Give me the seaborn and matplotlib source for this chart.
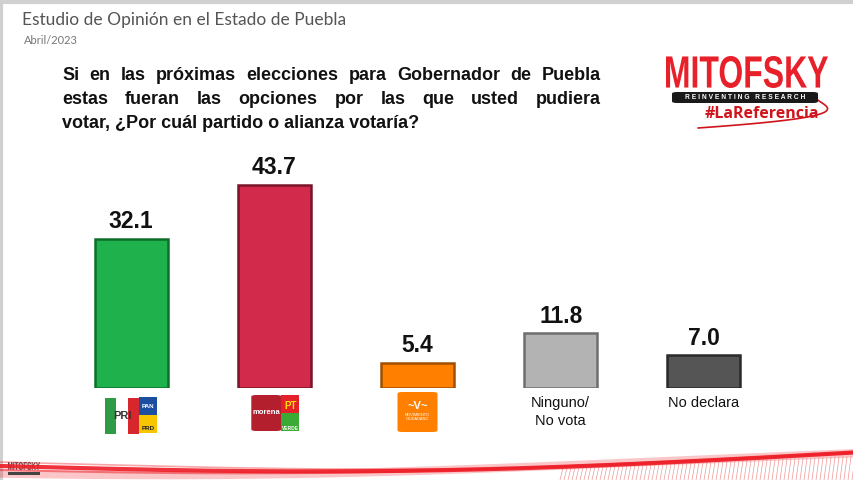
import matplotlib
matplotlib.use("Agg")
import matplotlib.pyplot as plt
import matplotlib.patches as mpatches
from matplotlib.textpath import TextPath
from matplotlib.font_manager import FontProperties
from matplotlib.transforms import Affine2D
import numpy as np
import pandas as pd
import seaborn as sns

# data
categorias = ["PRI-PAN-PRD", "Morena-PT-PVEM", "MC", "Ninguno/\nNo vota", "No declara"]
porcentajes = [32.1, 43.7, 5.4, 11.8, 7.0]
colores = ["#1fb14c", "#d12a4b", "#ff8000", "#b3b3b3", "#555555"]
bordes = ["#0f6e2c", "#7a1428", "#a04f00", "#6e6e6e", "#2a2a2a"]
etiquetas_texto = ["", "", "", "Ninguno/\nNo vota", "No declara"]

titulo = "Estudio de Opinión en el Estado de Puebla"
fecha = "Abril/2023"
pregunta = ["Si en las próximas elecciones para Gobernador de Puebla",
            "estas fueran las opciones por las que usted pudiera",
            "votar, ¿Por cuál partido o alianza votaría?"]

W, H = 854, 480
sns.set_theme(style="white")
plt.rcParams['font.family'] = ['Liberation Sans', 'DejaVu Sans']

fig = plt.figure(figsize=(W / 100, H / 100), dpi=100)
fig.patch.set_facecolor("white")

def fx(px):
    return px / W

def fy(py):
    return 1 - py / H

# main axes: bars bottom at y=388 px, categories spaced ~143 px
ax = fig.add_axes([fx(59.5), fy(388), fx(716), 228 / H])
df = pd.DataFrame({"cat": categorias, "val": porcentajes})
sns.barplot(data=df, x="cat", y="val", hue="cat", palette=colores, saturation=1,
            width=0.51, legend=False, ax=ax, linewidth=1.8)
for bar, ec in zip(ax.patches, bordes):
    bar.set_edgecolor(ec)
ax.set_xlim(-0.5, 4.5)
ax.set_ylim(0, 49)
ax.axis("off")

for i, v in enumerate(porcentajes):
    ax.annotate(f"{v:.1f}", (i, v), xytext=(0, 4), textcoords="offset points",
                ha="center", va="bottom", fontsize=16.5, fontweight="bold",
                color="#111111")

def cx(i):
    return ax.transData.transform((i, 0))[0]

for i, t in enumerate(etiquetas_texto):
    if t:
        fig.text(fx(cx(i)), fy(396), t, ha="center", va="top", fontsize=10.5,
                 color="#111111", linespacing=1.35)

def box(x0, y0, w, h, color, rounded=False, ec="none"):
    if rounded:
        p = mpatches.FancyBboxPatch((fx(x0), fy(y0 + h)), fx(w), h / H,
                                    boxstyle="round,pad=0,rounding_size=0.006",
                                    transform=fig.transFigure, fc=color, ec=ec,
                                    mutation_aspect=H / W)
    else:
        p = mpatches.Rectangle((fx(x0), fy(y0 + h)), fx(w), h / H,
                               transform=fig.transFigure, fc=color, ec=ec, lw=0.6)
    fig.patches.append(p)

# logo PRI / PAN / PRD
c = cx(0)
box(c - 26, 398, 34, 36, "#e6e6e6")
box(c - 26, 398, 11, 36, "#2e9c45")
box(c - 15, 398, 12, 36, "#ffffff")
box(c - 3, 398, 11, 36, "#d8262d")
fig.text(fx(c - 9), fy(416), "PRI", ha="center", va="center", fontsize=8,
         fontweight="bold", color="#333333")
box(c + 8, 397, 18, 18, "#1d4fa0")
fig.text(fx(c + 17), fy(406), "PAN", ha="center", va="center", fontsize=4.5,
         fontweight="bold", color="white")
box(c + 8, 415, 18, 18, "#f7c600")
fig.text(fx(c + 17), fy(428), "PRD", ha="center", va="center", fontsize=4.5,
         fontweight="bold", color="#222222")

# logo morena / PT / Verde
c = cx(1)
box(c - 23, 395, 30, 36, "#b41f2e", rounded=True)
fig.text(fx(c - 8), fy(412), "morena", ha="center", va="center", fontsize=5.5,
         fontweight="bold", color="white")
box(c + 7, 395, 18, 18, "#e4202a")
fig.text(fx(c + 16), fy(406), "PT", ha="center", va="center", fontsize=7,
         fontweight="bold", color="#ffe000")
box(c + 7, 413, 18, 18, "#3aa935")
fig.text(fx(c + 16), fy(428), "VERDE", ha="center", va="center", fontsize=3.5,
         fontweight="bold", color="white")

# logo MC
c = cx(2)
box(c - 20, 392, 40, 40, "#ff7f00", rounded=True)
fig.text(fx(c), fy(406), "~V~", ha="center", va="center", fontsize=8,
         fontweight="bold", color="white")
fig.text(fx(c), fy(417), "MOVIMIENTO\nCIUDADANO", ha="center", va="center",
         fontsize=2.8, color="white", linespacing=1.0)

# header
fig.text(fx(22), fy(20), titulo, ha="left", va="center", fontsize=12.5,
         color="#555555", family=["Lato", "DejaVu Sans"])
fig.text(fx(24), fy(41), fecha, ha="left", va="center", fontsize=8,
         color="#777777", family=["Lato", "DejaVu Sans"])

# question text, justified between x=62 and x=601
fig.canvas.draw()
renderer = fig.canvas.get_renderer()
left, right = 62, 601
for k, linea in enumerate(pregunta):
    ypx = 76 + k * 24
    palabras = linea.split(" ")
    if k == len(pregunta) - 1:
        fig.text(fx(left), fy(ypx), linea, ha="left", va="center",
                 fontsize=13, fontweight="bold", color="#111111")
        continue
    arts = [fig.text(0, 0, w_, fontsize=13, fontweight="bold", color="#111111",
                     va="center") for w_ in palabras]
    anchos = [a.get_window_extent(renderer).width for a in arts]
    hueco = (right - left - sum(anchos)) / (len(palabras) - 1)
    x = left
    for a, wd in zip(arts, anchos):
        a.set_position((fx(x), fy(ypx)))
        x += wd + hueco

deco = fig.add_axes([0, 0, 1, 1], zorder=-1)
deco.set_xlim(0, W)
deco.set_ylim(H, 0)
deco.axis("off")

def squeezed(texto, x0, x1, ytop, ybot, color, weight="bold"):
    # text stretched to fit a pixel box
    tp = TextPath((0, 0), texto, size=10,
                  prop=FontProperties(family="Liberation Sans", weight=weight))
    bb = tp.get_extents()
    sx = (x1 - x0) / bb.width
    sy = (ybot - ytop) / bb.height
    tr = (Affine2D().translate(-bb.x0, -bb.y0).scale(sx, -sy)
          .translate(x0, ybot))
    deco.add_patch(mpatches.PathPatch(tr.transform_path(tp), fc=color, ec="none"))

# MITOFSKY logo (top right)
squeezed("MITOFSKY", 666, 828, 56, 88, "#e8202a")
box(672, 92, 146, 11, "#1a1a1a", rounded=True)
fig.text(fx(745), fy(97.5), "R E I N V E N T I N G   R E S E A R C H", ha="center",
         va="center", fontsize=4.8, fontweight="bold", color="white")
fig.text(fx(762), fy(114), "#LaReferencia", ha="center", va="center", fontsize=11.5,
         fontweight="bold", color="#d0141c", family=["Open Sans", "DejaVu Sans"])
tt = np.linspace(0, 1, 60)
sx = 818 + 24 * np.sin(np.pi * tt) - 120 * tt ** 2
sy = 100 + 28 * tt ** 0.8
deco.plot(sx, sy, color="#d0141c", lw=1.2)

# frame lines
deco.plot([0, W], [1.5, 1.5], color="#d0d0d0", lw=3)
deco.plot([1.5, 1.5], [0, H], color="#d0d0d0", lw=3)

# bottom swoosh decoration
xs = np.linspace(0, W, 200)
for off, lw, a in [(0, 3.0, 0.9), (4, 1.5, 0.5), (-4, 1.2, 0.4), (8, 6, 0.25)]:
    ys = 466 + off * 0.4 + 6 * np.sin(xs / W * np.pi * 1.2 + off * 0.1) - 10 * (xs / W) ** 3
    deco.plot(xs, ys, color="#ee1c25", lw=lw, alpha=a)
for x0 in range(560, W, 4):
    deco.plot([x0, x0 + 3], [480, 468 - (x0 - 560) * 0.04], color="#d33", lw=0.5, alpha=0.5)
squeezed("MITOFSKY", 8, 40, 462, 470, "#444444")
box(8, 472, 32, 2.5, "#444444")

fig.savefig("out.png", dpi=100, facecolor="white")
